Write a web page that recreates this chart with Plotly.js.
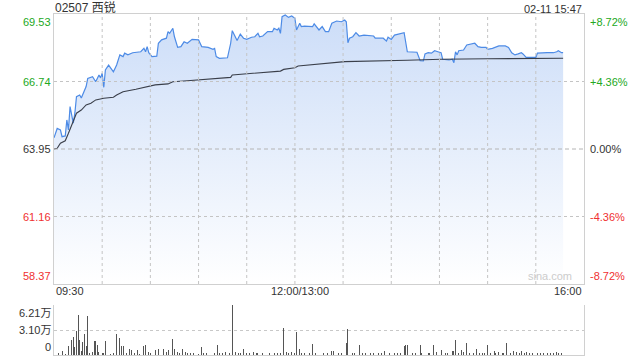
<!DOCTYPE html>
<html>
<head>
<meta charset="utf-8">
<script src="https://cdn.plot.ly/plotly-3.0.1.min.js"></script>
<style>
html,body{margin:0;padding:0;background:#fff;}
#chart{width:640px;height:360px;}
</style>
</head>
<body>
<div id="chart"></div>
<script>
// ---------- data ----------
const stockTitle = "02507 西锐";
const stampText = "02-11 15:47";
const prevClose = 63.95;
const priceTicks = [69.53, 66.74, 63.95, 61.16, 58.37];
const priceTickText = ["69.53", "66.74", "63.95", "61.16", "58.37"];
const pctTickText = ["+8.72%", "+4.36%", "0.00%", "-4.36%", "-8.72%"];
const volTicks = [62100, 31000, 0];
const volTickText = ["6.21万", "3.10万", "0"];
const timeLabels = ["09:30", "12:00/13:00", "16:00"];
const timeLabelPos = ["09:30", "12:00", "16:00"];

const priceTimes = ["09:30","09:32","09:34","09:35","09:37","09:38","09:39","09:40","09:42","09:43","09:44","09:46","09:47","09:50","09:51","09:54","09:56","09:58","09:59","10:00","10:01","10:02","10:04","10:07","10:09","10:11","10:13","10:14","10:16","10:19","10:24","10:26","10:27","10:28","10:29","10:31","10:34","10:35","10:37","10:40","10:41","10:42","10:44","10:45","10:47","10:49","10:51","10:53","10:56","11:00","11:02","11:06","11:09","11:10","11:11","11:13","11:18","11:20","11:21","11:23","11:24","11:26","11:28","11:30","11:33","11:35","11:37","11:38","11:40","11:43","11:46","11:47","11:49","11:50","11:51","11:52","11:54","11:56","11:58","12:00","13:01","13:03","13:04","13:06","13:09","13:11","13:12","13:15","13:17","13:19","13:21","13:23","13:26","13:29","13:31","13:32","13:33","13:34","13:36","13:38","13:40","13:43","13:49","13:50","13:55","13:57","13:58","14:00","14:02","14:05","14:08","14:10","14:13","14:16","14:18","14:20","14:21","14:23","14:25","14:27","14:29","14:31","14:32","14:36","14:38","14:39","14:40","14:41","14:42","14:45","14:47","14:49","14:52","14:54","14:56","14:59","15:00","15:03","15:07","15:11","15:13","15:15","15:17","15:19","15:21","15:22","15:24","15:30","15:31","15:37","15:41","15:43","15:44","15:46","15:47"];
const prices = [64.41,64.80,64.74,64.46,64.49,65.15,64.74,65.70,65.02,65.44,66.11,66.18,66.06,66.53,66.87,66.94,66.73,67.01,66.89,67.08,66.50,67.22,67.42,67.14,67.42,67.84,67.77,67.91,67.84,67.93,67.97,68.11,67.97,68.18,67.93,67.77,67.79,68.32,68.46,68.53,68.80,68.73,68.94,68.59,68.15,68.18,68.38,68.32,68.48,68.46,68.18,68.15,68.07,68.11,67.77,67.70,67.72,68.32,68.84,68.59,68.43,68.70,68.53,68.48,68.57,68.59,68.73,68.59,68.62,68.80,68.80,68.94,68.87,68.94,68.73,69.42,69.49,69.39,69.45,69.35,68.87,69.15,69.01,69.03,69.01,69.01,69.12,68.87,69.01,68.80,68.80,69.15,69.24,69.21,69.28,69.21,68.34,68.53,68.59,68.76,68.62,68.66,68.62,68.53,68.53,68.41,68.57,68.48,68.66,68.70,68.76,67.97,67.97,67.95,67.60,67.59,67.88,67.93,67.91,68.01,67.97,67.93,67.66,67.63,67.66,67.52,67.97,67.84,68.01,68.04,68.25,68.29,68.32,68.18,68.15,68.15,68.07,68.11,68.21,68.21,68.15,67.93,67.84,67.88,67.93,67.88,67.74,67.74,67.91,67.93,67.93,67.97,68.01,67.93,67.93];

const avgTimes = ["09:30","09:32","09:34","09:37","09:39","09:41","09:44","09:47","09:50","09:53","09:56","10:01","10:07","10:09","10:13","10:21","10:26","10:33","10:41","10:44","10:53","11:20","11:21","11:51","11:53","12:00","13:02","13:15","13:31","14:10","14:31","15:00","15:47"];
const avgPrices = [63.95,63.98,64.19,64.29,64.60,64.94,65.43,65.56,65.77,65.84,65.98,66.05,66.09,66.18,66.32,66.42,66.50,66.60,66.64,66.73,66.77,66.91,67.01,67.17,67.24,67.31,67.38,67.46,67.56,67.62,67.66,67.68,67.70];

const volTimes = ["09:30","09:33","09:35","09:37","09:39","09:41","09:42","09:43","09:44","09:45","09:46","09:47","09:48","09:49","09:50","09:51","09:52","09:54","09:55","09:56","09:57","09:58","10:00","10:01","10:02","10:03","10:05","10:07","10:09","10:11","10:12","10:13","10:15","10:17","10:18","10:20","10:22","10:23","10:26","10:27","10:29","10:30","10:33","10:35","10:36","10:38","10:40","10:41","10:44","10:45","10:47","10:48","10:50","10:52","10:53","10:55","10:57","11:00","11:02","11:03","11:05","11:09","11:10","11:12","11:13","11:15","11:17","11:19","11:21","11:23","11:25","11:26","11:28","11:30","11:32","11:34","11:36","11:37","11:40","11:42","11:44","11:47","11:49","11:51","11:53","11:55","11:56","11:58","12:00","13:01","13:03","13:04","13:06","13:09","13:11","13:13","13:15","13:18","13:20","13:23","13:24","13:27","13:29","13:32","13:33","13:36","13:37","13:40","13:42","13:44","13:47","13:49","13:52","13:54","13:56","13:59","14:02","14:04","14:06","14:08","14:09","14:10","14:13","14:15","14:18","14:19","14:21","14:23","14:24","14:26","14:28","14:31","14:34","14:35","14:38","14:39","14:40","14:42","14:44","14:45","14:47","14:49","14:51","14:53","14:55","14:57","14:58","15:00","15:02","15:04","15:05","15:07","15:09","15:10","15:12","15:14","15:16","15:18","15:20","15:21","15:23","15:24","15:26","15:28","15:31","15:33","15:35","15:37","15:39","15:41","15:43","15:44","15:46"];
const volumes = [14500,2000,5000,1500,11000,18600,22800,10000,30200,49700,18600,5000,16500,26000,11000,48400,3000,4000,17400,17400,12400,4000,3000,2500,17400,2000,1500,2000,26000,20700,11000,11000,2000,7000,6000,2500,6000,1500,11000,12400,4000,2500,6000,7000,3500,7000,4000,6000,19900,7000,4000,2000,7000,3500,2500,2000,2000,1500,9500,2500,2000,8500,2000,12400,2500,2000,4000,2500,62100,4000,2500,2000,7000,2000,3000,4000,2000,3000,2000,2500,2000,2500,3000,2000,33500,4000,2500,4000,2500,28500,8000,3000,2000,2500,14000,2000,2500,3000,2000,5000,5000,2000,2500,15000,33000,3000,2500,12400,2500,2000,2500,2000,2500,2000,5000,3000,2000,2500,2000,11000,12000,12400,3000,2500,13000,2500,3000,2000,2500,12400,4000,6000,3000,2000,5000,5000,18600,2500,6000,4000,14500,2500,3000,7000,2000,2500,2000,13000,2500,5000,2000,4000,3000,2000,14500,2500,5000,4000,2500,5000,2000,4000,2500,3000,2500,2000,2500,2500,3000,2500,3500,2500,3000];

// ---------- helpers ----------
// minutes since 09:30 with the lunch break (12:00-13:00) removed
function idx(t) {
  const [h, m] = t.split(":").map(Number);
  const v = h * 60 + m;
  return v <= 720 ? v - 570 : v - 780 + 150;
}
const gridMinutes = [];
for (let k = 30; k < 330; k += 30) gridMinutes.push(k);

const FONT = "Arial, 'Liberation Sans', 'Noto Sans CJK SC', sans-serif";
const GREEN = "#22a822", RED = "#f03030", DARK = "#333333";
const labelColors = [GREEN, GREEN, DARK, RED, RED];

const traces = [
  {
    x: priceTimes.map(idx), y: prices, type: "scatter", mode: "lines",
    xaxis: "x", yaxis: "y",
    line: {color: "#4d8be6", width: 1.2},
    fill: "tozeroy",
    fillgradient: {type: "vertical", start: priceTicks[4], stop: priceTicks[0],
      colorscale: [[0, "rgba(255,255,255,1)"], [1, "rgb(204,221,248)"]]},
    hoverinfo: "skip"
  },
  {
    x: avgTimes.map(idx), y: avgPrices, type: "scatter", mode: "lines",
    xaxis: "x", yaxis: "y",
    line: {color: "#3a3f4a", width: 1.1},
    hoverinfo: "skip"
  },
  {
    x: volTimes.map(idx), y: volumes, type: "bar",
    xaxis: "x2", yaxis: "y3",
    width: 0.6,
    marker: {color: "#555555", line: {width: 0}},
    hoverinfo: "skip"
  }
];

const annotations = [];
priceTicks.forEach((v, i) => {
  const anchor = i === 0 ? "top" : (i === priceTicks.length - 1 ? "bottom" : "middle");
  annotations.push({xref: "paper", yref: "y", x: 0, y: v, xanchor: "right", yanchor: anchor,
    xshift: -1, text: priceTickText[i], showarrow: false,
    font: {family: FONT, size: 11, color: labelColors[i]}});
  annotations.push({xref: "paper", yref: "y", x: 1, y: v, xanchor: "left", yanchor: anchor,
    xshift: 4, text: pctTickText[i], showarrow: false,
    font: {family: FONT, size: 11, color: labelColors[i]}});
});
volTicks.forEach((v, i) => {
  const anchor = i === 0 ? "top" : (i === volTicks.length - 1 ? "bottom" : "middle");
  annotations.push({xref: "paper", yref: "y3", x: 0, y: v, xanchor: "right", yanchor: anchor,
    xshift: -1, text: volTickText[i], showarrow: false,
    font: {family: FONT, size: 11, color: DARK}});
});
timeLabels.forEach((t, i) => {
  const anchor = i === 0 ? "left" : (i === timeLabels.length - 1 ? "right" : "center");
  annotations.push({xref: "x", yref: "paper", x: idx(timeLabelPos[i]), y: 0.2082,
    xanchor: anchor, yanchor: "top", xshift: i === 1 ? 5 : 0, yshift: 1,
    text: t, showarrow: false, font: {family: FONT, size: 11, color: DARK}});
});
annotations.push({xref: "paper", yref: "paper", x: 0, y: 1, xanchor: "left", yanchor: "bottom",
  xshift: -1, yshift: -3, text: stockTitle, showarrow: false,
  font: {family: FONT, size: 12, color: DARK}});
annotations.push({xref: "paper", yref: "paper", x: 1, y: 1, xanchor: "right", yanchor: "bottom",
  yshift: -3, text: stampText, showarrow: false,
  font: {family: FONT, size: 11, color: DARK}});
annotations.push({xref: "paper", yref: "y", x: 1, y: priceTicks[4], xanchor: "right", yanchor: "bottom",
  xshift: -10, yshift: 0, text: "sina.com", showarrow: false,
  font: {family: FONT, size: 11, color: "#cccccc"}});

// grid lines drawn above the filled area, positioned in data coordinates
const shapes = [];
gridMinutes.forEach(m => shapes.push({type: "line", layer: "above", xref: "x", yref: "y",
  x0: m, x1: m, y0: priceTicks[4], y1: priceTicks[0],
  line: {color: "#c4c4c4", width: 1, dash: "dot"}}));
[priceTicks[1], priceTicks[3]].forEach(v => shapes.push({type: "line", layer: "above", xref: "paper", yref: "y",
  x0: 0, x1: 1, y0: v, y1: v, line: {color: "#c4c4c4", width: 1, dash: "dot"}}));
shapes.push({type: "line", layer: "above", xref: "paper", yref: "y", x0: 0, x1: 1, y0: prevClose, y1: prevClose,
  line: {color: "#b4b4b4", width: 1, dash: "4px,3px"}});

const layout = {
  width: 640, height: 360,
  margin: {l: 54, r: 56, t: 14, b: 5},
  paper_bgcolor: "#ffffff", plot_bgcolor: "rgba(0,0,0,0)",
  showlegend: false,
  xaxis: {domain: [0, 1], range: [0, 330], anchor: "y",
    showticklabels: false, ticks: "", showgrid: false,
    showline: true, mirror: true, linecolor: "#d0d0d0", linewidth: 1, zeroline: false, fixedrange: true},
  yaxis: {domain: [0.2082, 1], range: [priceTicks[4], priceTicks[0]], anchor: "x",
    showticklabels: false, ticks: "", showgrid: false,
    showline: true, mirror: true, linecolor: "#d0d0d0", linewidth: 1, zeroline: false, fixedrange: true},
  xaxis2: {domain: [0, 1], range: [0, 330], anchor: "y3",
    showticklabels: false, ticks: "", showgrid: false,
    showline: true, linecolor: "#d0d0d0", linewidth: 1, zeroline: false, fixedrange: true},
  yaxis3: {domain: [0, 0.1466], range: [0, 62300], anchor: "x2",
    tickvals: [volTicks[0], volTicks[1]], showticklabels: false, ticks: "",
    showgrid: true, gridcolor: "#c8c8c8", griddash: "dot", gridwidth: 1,
    showline: true, mirror: true, linecolor: "#d0d0d0", linewidth: 1, zeroline: false, fixedrange: true},
  bargap: 0,
  shapes: shapes,
  annotations: annotations
};

Plotly.newPlot("chart", traces, layout, {displayModeBar: false, staticPlot: true});
</script>
</body>
</html>
